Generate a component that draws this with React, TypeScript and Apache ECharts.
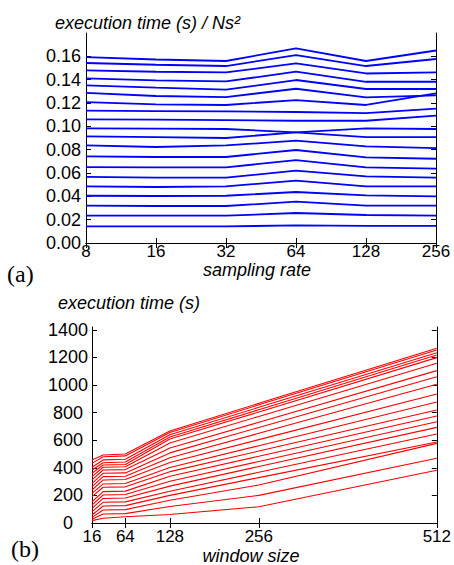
import React, { useEffect, useRef } from "react";
import * as echarts from "echarts";

// (a) sampling rate vs execution time / Ns^2
const samplingRates = ["8", "16", "32", "64", "128", "256"];
const topLines: number[][] = [
  [0.1594, 0.1573, 0.156, 0.1668, 0.156, 0.165],
  [0.1543, 0.1528, 0.1517, 0.1611, 0.1517, 0.1577],
  [0.1479, 0.1468, 0.1462, 0.1539, 0.1453, 0.1462],
  [0.1411, 0.1394, 0.1385, 0.1468, 0.1382, 0.1382],
  [0.1351, 0.1331, 0.1314, 0.1397, 0.132, 0.132],
  [0.1286, 0.126, 0.1251, 0.1322, 0.1248, 0.1265],
  [0.1208, 0.1188, 0.1183, 0.1225, 0.1183, 0.1282],
  [0.1134, 0.1131, 0.1128, 0.1123, 0.1114, 0.1151],
  [0.1059, 0.1057, 0.1054, 0.1048, 0.1048, 0.1091],
  [0.0982, 0.098, 0.0977, 0.0948, 0.0908, 0.0908],
  [0.0914, 0.0908, 0.09, 0.0948, 0.0982, 0.0977],
  [0.0836, 0.0823, 0.0836, 0.0877, 0.0828, 0.0814],
  [0.0742, 0.0737, 0.0737, 0.0797, 0.0734, 0.0722],
  [0.0651, 0.0648, 0.0648, 0.0711, 0.0648, 0.0637],
  [0.0566, 0.056, 0.056, 0.062, 0.0571, 0.056],
  [0.0485, 0.048, 0.0485, 0.0534, 0.0485, 0.0485],
  [0.0405, 0.0403, 0.0405, 0.0437, 0.0408, 0.0399],
  [0.032, 0.0317, 0.0317, 0.0354, 0.032, 0.032],
  [0.0234, 0.0234, 0.0234, 0.0257, 0.024, 0.0234],
  [0.0142, 0.0142, 0.0142, 0.0151, 0.0146, 0.0146],
];
const topYLabels = [0, 0.02, 0.04, 0.06, 0.08, 0.1, 0.12, 0.14, 0.16];

// (b) window size vs execution time (s)
const windowSizes = [16, 32, 64, 128, 256, 512];
const windowTicks = [16, 64, 128, 256, 512];
const bottomLines: number[][] = [
  [457, 493, 500, 667, 867, 1266],
  [432, 480, 486, 656, 856, 1254],
  [404, 457, 462, 640, 838, 1234],
  [384, 437, 442, 623, 821, 1217],
  [360, 420, 424, 608, 804, 1198],
  [336, 404, 407, 579, 772, 1157],
  [312, 384, 387, 544, 730, 1104],
  [287, 360, 363, 508, 692, 1060],
  [264, 336, 339, 473, 650, 1005],
  [239, 312, 315, 438, 604, 935],
  [215, 283, 286, 402, 560, 877],
  [191, 259, 262, 372, 521, 819],
  [154, 227, 231, 339, 484, 775],
  [130, 203, 206, 303, 446, 734],
  [106, 178, 181, 267, 409, 693],
  [82, 150, 153, 230, 368, 645],
  [58, 123, 126, 200, 329, 587],
  [41, 94, 97, 165, 275, 577],
  [27, 65, 68, 120, 200, 469],
  [17, 34, 45, 62, 118, 382],
];
const bottomYLabels = [0, 200, 400, 600, 800, 1000, 1200, 1400];

const FONT = "Liberation Sans";

export default function App() {
  const ref = useRef<HTMLDivElement>(null);
  useEffect(() => {
    if (!ref.current) return;
    const chart = echarts.init(ref.current, undefined, { renderer: "svg" });
    const axisLine = { show: true, lineStyle: { color: "#000", width: 1 } };
    const tickIn = { show: true, inside: true, length: 5, lineStyle: { color: "#000" } };
    const lbl = { color: "#000", fontSize: 18, fontFamily: FONT };

    const series: any[] = [];
    topLines.forEach((row, i) => {
      series.push({
        type: "line",
        name: "a" + i,
        xAxisIndex: 0,
        yAxisIndex: 0,
        data: row,
        symbol: "none",
        silent: true,
        lineStyle: { color: "#0000ff", width: 1.8 },
      });
    });
    bottomLines.forEach((row, i) => {
      series.push({
        type: "line",
        name: "b" + i,
        xAxisIndex: 2,
        yAxisIndex: 2,
        data: windowSizes.map((w, j) => [w, row[j]]),
        symbol: "none",
        silent: true,
        lineStyle: { color: "#ff0000", width: 1.1 },
      });
    });

    const textStyle = (text: string, x: number, y: number, extra: any = {}) => ({
      type: "text",
      x,
      y,
      silent: true,
      style: {
        text,
        fill: "#000",
        fontSize: 18,
        fontFamily: FONT,
        fontStyle: "italic",
        align: "left",
        verticalAlign: "middle",
        ...extra,
      },
    });

    chart.setOption({
      animation: false,
      backgroundColor: "#fff",
      grid: [
        { left: 86, top: 33, width: 350, height: 210 },
        { left: 92, top: 327, width: 345, height: 196 },
      ],
      xAxis: [
        {
          type: "category",
          gridIndex: 0,
          data: samplingRates,
          boundaryGap: false,
          axisLine,
          axisTick: tickIn,
          axisLabel: { ...lbl, fontSize: 17, margin: 0 },
          splitLine: { show: false },
        },
        {
          type: "category",
          gridIndex: 0,
          position: "top",
          data: samplingRates,
          boundaryGap: false,
          axisLine,
          axisTick: tickIn,
          axisLabel: { show: false },
          splitLine: { show: false },
        },
        {
          type: "value",
          gridIndex: 1,
          min: 16,
          max: 512,
          axisLine,
          axisTick: { ...tickIn, customValues: windowTicks },
          axisLabel: {
            ...lbl,
            fontSize: 17,
            margin: 5,
            customValues: windowTicks,
            formatter: (v: number) => String(v),
          },
          splitLine: { show: false },
        },
        {
          type: "value",
          gridIndex: 1,
          position: "top",
          min: 16,
          max: 512,
          axisLine,
          axisTick: { ...tickIn, customValues: windowTicks },
          axisLabel: { show: false },
          splitLine: { show: false },
        },
      ],
      yAxis: [
        {
          type: "value",
          gridIndex: 0,
          min: 0,
          max: 0.18,
          axisLine,
          axisTick: { ...tickIn, customValues: topYLabels },
          axisLabel: {
            ...lbl,
            margin: 5,
            customValues: topYLabels,
            formatter: (v: number) => v.toFixed(2),
          },
          splitLine: { show: false },
        },
        {
          type: "value",
          gridIndex: 0,
          position: "right",
          min: 0,
          max: 0.18,
          axisLine,
          axisTick: { ...tickIn, customValues: topYLabels },
          axisLabel: { show: false },
          splitLine: { show: false },
        },
        {
          type: "value",
          gridIndex: 1,
          min: 0,
          max: 1420,
          axisLine,
          axisTick: { ...tickIn, customValues: bottomYLabels },
          axisLabel: {
            ...lbl,
            margin: 24,
            align: "center",
            customValues: bottomYLabels,
            formatter: (v: number) => String(v),
          },
          splitLine: { show: false },
        },
        {
          type: "value",
          gridIndex: 1,
          position: "right",
          min: 0,
          max: 1420,
          axisLine,
          axisTick: { ...tickIn, customValues: bottomYLabels },
          axisLabel: { show: false },
          splitLine: { show: false },
        },
      ],
      graphic: [
        textStyle("execution time (s) / Ns\u00b2", 55, 23),
        textStyle("sampling rate", 257, 270, { align: "center" }),
        textStyle("(a)", 7, 274, {
          fontFamily: "Liberation Serif",
          fontStyle: "normal",
          fontSize: 24,
        }),
        textStyle("execution time (s)", 58, 303),
        textStyle("window size", 251, 556, { align: "center" }),
        textStyle("(b)", 11, 549, {
          fontFamily: "Liberation Serif",
          fontStyle: "normal",
          fontSize: 24,
        }),
      ],
      series,
    });
    return () => chart.dispose();
  }, []);
  return (
    <div
      ref={ref}
      style={{ position: "absolute", left: 0, top: 0, width: 454, height: 565, background: "#fff" }}
    />
  );
}
